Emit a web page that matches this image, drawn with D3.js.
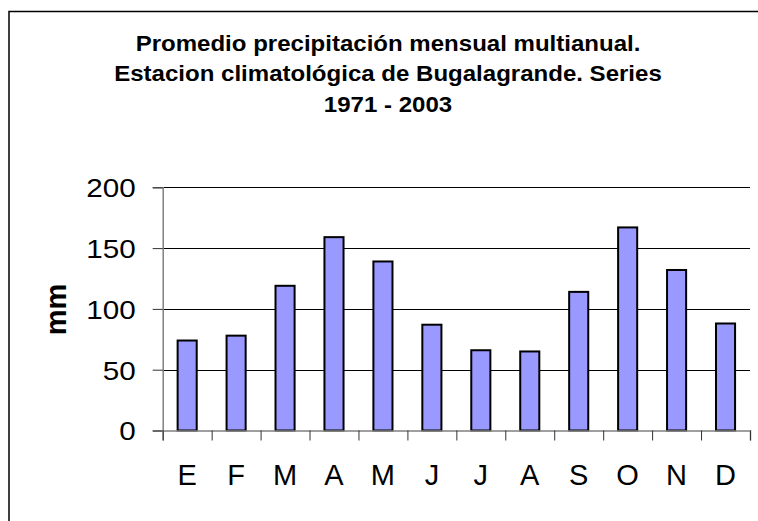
<!DOCTYPE html>
<html>
<head>
<meta charset="utf-8">
<script src="https://cdn.jsdelivr.net/npm/d3@7"></script>
<style>
  html, body { margin: 0; padding: 0; background: #fff; }
  svg { display: block; font-family: "Liberation Sans", Arial, sans-serif; }
</style>
</head>
<body>
<svg id="chart" width="758" height="521"></svg>
<script>
const titleLines = [
  "Promedio precipitación mensual multianual.",
  "Estacion climatológica de Bugalagrande. Series",
  "1971 - 2003"
];
const months = ["E", "F", "M", "A", "M", "J", "J", "A", "S", "O", "N", "D"];
const values = [74, 78, 119, 159, 139, 87, 66, 65, 114, 167, 132, 88];
const yTicks = [0, 50, 100, 150, 200];
const yLabel = "mm";

const svg = d3.select("#chart");
const plot = { left: 162.7, right: 750, top: 187.3, bottom: 430.5 };

// outer frame
svg.append("rect")
  .attr("x", 9).attr("y", 11.5)
  .attr("width", 800).attr("height", 600)
  .attr("fill", "#fff").attr("stroke", "#000").attr("stroke-width", 1.5);

// title
const tg = svg.append("g").attr("transform", "translate(388,0) scale(1.093,1)");
tg.selectAll("text").data(titleLines).join("text")
  .attr("x", 0)
  .attr("y", (d, i) => 51 + i * 30.5)
  .attr("text-anchor", "middle")
  .attr("font-size", 22)
  .attr("font-weight", "bold")
  .attr("fill", "#000")
  .text(d => d);

const x = d3.scaleBand()
  .domain(d3.range(months.length))
  .range([plot.left, plot.right])
  .paddingInner(0.61)
  .paddingOuter(0.305);

const y = d3.scaleLinear().domain([0, 200]).range([plot.bottom, plot.top]);

// gridlines
svg.append("g").selectAll("line").data(yTicks.filter(d => d > 0)).join("line")
  .attr("x1", plot.left).attr("x2", plot.right)
  .attr("y1", d => Math.round(y(d)) + 0.5).attr("y2", d => Math.round(y(d)) + 0.5)
  .attr("stroke", "#000").attr("stroke-width", 1);

// y axis
const yAxis = d3.axisLeft(y).tickValues(yTicks).tickSize(10).tickPadding(17);
const ya = svg.append("g").attr("transform", `translate(${plot.left},0)`).call(yAxis);
ya.select(".domain").attr("stroke", "#808080").attr("stroke-width", 1.5);
ya.selectAll(".tick line").attr("stroke", "#333");
ya.selectAll(".tick text")
  .attr("font-size", 26)
  .attr("font-family", "Liberation Sans, Arial, sans-serif")
  .attr("fill", "#000")
  .attr("dy", "0.36em")
  .each(function() {
    const len = this.getComputedTextLength();
    d3.select(this).attr("textLength", len * 1.14).attr("lengthAdjust", "spacingAndGlyphs");
  });

// bars
svg.append("g").selectAll("rect").data(values).join("rect")
  .attr("x", (d, i) => x(i))
  .attr("y", d => y(d))
  .attr("width", x.bandwidth())
  .attr("height", d => y(0) - y(d))
  .attr("fill", "#9999FF")
  .attr("stroke", "#000")
  .attr("stroke-width", 2);

// x axis (category boundaries)
const xb = d3.scaleLinear().domain([0, months.length]).range([plot.left, plot.right]);
const xa = svg.append("g").attr("transform", `translate(0,${plot.bottom})`)
  .call(d3.axisBottom(xb).tickValues(d3.range(months.length + 1)).tickSize(10).tickFormat(""));
xa.select(".domain").attr("stroke", "#808080").attr("stroke-width", 1.5);
xa.selectAll(".tick line").attr("stroke", "#333");

// x labels
svg.append("g").selectAll("text").data(months).join("text")
  .attr("x", (d, i) => x(i) + x.bandwidth() / 2)
  .attr("y", 485)
  .attr("text-anchor", "middle")
  .attr("font-size", 29)
  .attr("fill", "#000")
  .text(d => d);

// y label
svg.append("text")
  .attr("transform", "translate(66,309.5) rotate(-90)")
  .attr("text-anchor", "middle")
  .attr("font-size", 29)
  .attr("font-weight", "bold")
  .attr("fill", "#000")
  .text(yLabel);
</script>
</body>
</html>
